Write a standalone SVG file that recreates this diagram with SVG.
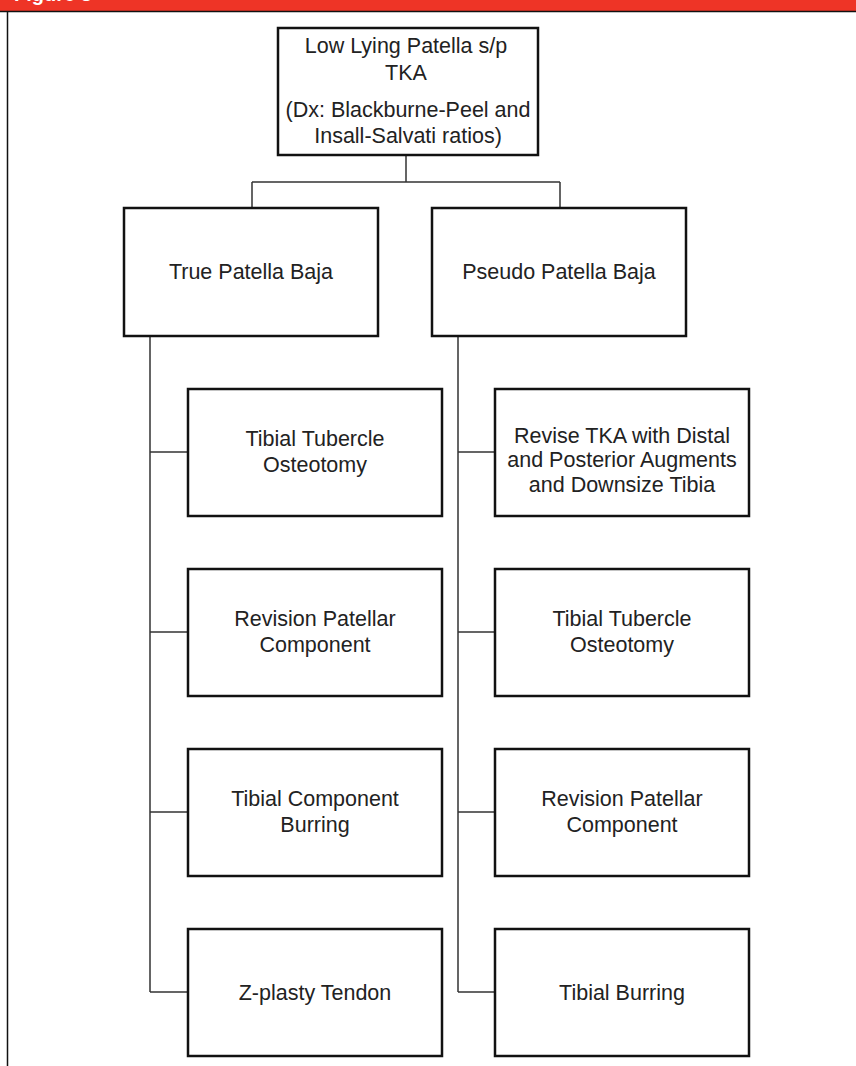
<svg xmlns="http://www.w3.org/2000/svg" width="856" height="1066" viewBox="0 0 856 1066">
<style>
.box{fill:#fff;stroke:#111;stroke-width:2.5}
.t{font-family:"Liberation Sans",Arial,sans-serif;font-size:21.5px;fill:#222;text-anchor:middle}
.c{fill:none;stroke:#333;stroke-width:1.5}
.frame{fill:none;stroke:#111;stroke-width:1.5}
</style>
<rect x="0" y="0" width="856" height="11" fill="#EE3426"/>
<text x="14" y="1" font-family="Liberation Sans,Arial,sans-serif" font-size="20" font-weight="bold" fill="#fff">Figure 3</text>
<path class="frame" d="M0 11.5H856M7.5 11.5V1066"/>
<g id="connectors">
<path class="c" d="M406 155V182M252 182H560M252 182V208M560 182V208"/>
<path class="c" d="M150 336V992M150 452H188M150 632H188M150 812H188M150 992H188"/>
<path class="c" d="M458 336V992M458 452H495M458 632H495M458 812H495M458 992H495"/>
</g>
<g id="root">
<rect class="box" x="278" y="28" width="260" height="127"/>
<text class="t" x="406" y="53">Low Lying Patella s/p</text>
<text class="t" x="406" y="80">TKA</text>
<text class="t" x="408" y="117">(Dx: Blackburne-Peel and</text>
<text class="t" x="408" y="143">Insall-Salvati ratios)</text>
</g>
<g id="true-baja">
<rect class="box" x="124" y="208" width="254" height="128"/>
<text class="t" x="251" y="279">True Patella Baja</text>
</g>
<g id="pseudo-baja">
<rect class="box" x="432" y="208" width="254" height="128"/>
<text class="t" x="559" y="279">Pseudo Patella Baja</text>
</g>
<g id="t1">
<rect class="box" x="188" y="389" width="254" height="127"/>
<text class="t" x="315" y="446">Tibial Tubercle</text>
<text class="t" x="315" y="472">Osteotomy</text>
</g>
<g id="t2">
<rect class="box" x="188" y="569" width="254" height="127"/>
<text class="t" x="315" y="626">Revision Patellar</text>
<text class="t" x="315" y="652">Component</text>
</g>
<g id="t3">
<rect class="box" x="188" y="749" width="254" height="127"/>
<text class="t" x="315" y="806">Tibial Component</text>
<text class="t" x="315" y="832">Burring</text>
</g>
<g id="t4">
<rect class="box" x="188" y="929" width="254" height="127"/>
<text class="t" x="315" y="1000">Z-plasty Tendon</text>
</g>
<g id="p1">
<rect class="box" x="495" y="389" width="254" height="127"/>
<text class="t" x="622" y="443">Revise TKA with Distal</text>
<text class="t" x="622" y="467">and Posterior Augments</text>
<text class="t" x="622" y="492">and Downsize Tibia</text>
</g>
<g id="p2">
<rect class="box" x="495" y="569" width="254" height="127"/>
<text class="t" x="622" y="626">Tibial Tubercle</text>
<text class="t" x="622" y="652">Osteotomy</text>
</g>
<g id="p3">
<rect class="box" x="495" y="749" width="254" height="127"/>
<text class="t" x="622" y="806">Revision Patellar</text>
<text class="t" x="622" y="832">Component</text>
</g>
<g id="p4">
<rect class="box" x="495" y="929" width="254" height="127"/>
<text class="t" x="622" y="1000">Tibial Burring</text>
</g>
</svg>
